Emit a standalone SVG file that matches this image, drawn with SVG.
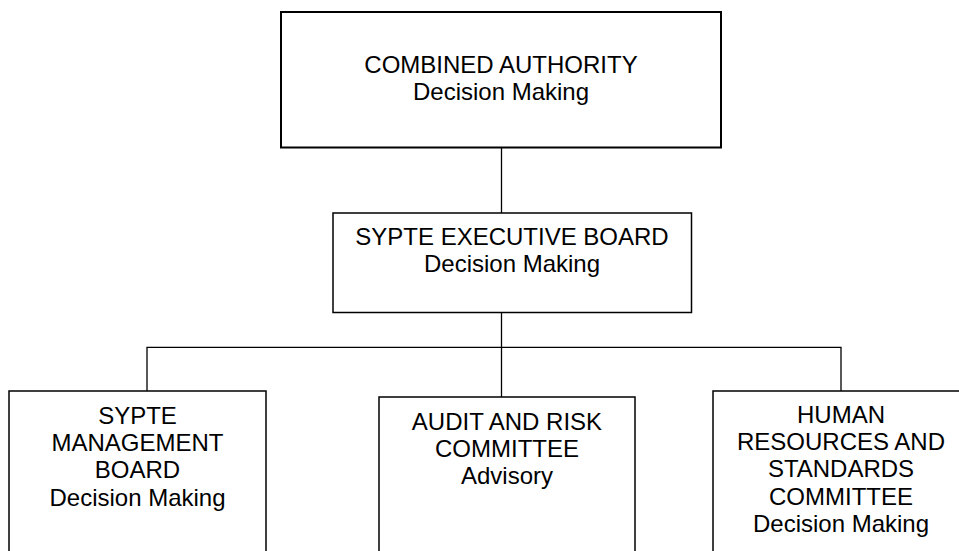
<svg xmlns="http://www.w3.org/2000/svg" width="959" height="551" viewBox="0 0 959 551">
<style>
  .box { fill: #ffffff; stroke: #000000; stroke-width: 1.5; }
  .top { stroke-width: 2; }
  .conn { stroke: #000000; stroke-width: 1.3; fill: none; }
  text { font-family: "Liberation Sans", Arial, sans-serif; font-size: 24px; fill: #000000; text-anchor: middle; }
</style>
<rect width="959" height="551" fill="#ffffff"/>
<g id="connectors">
  <line class="conn" x1="501.5" y1="148" x2="501.5" y2="213"/>
  <line class="conn" x1="501.5" y1="312.5" x2="501.5" y2="397"/>
  <polyline class="conn" points="147,391 147,347.3 841,347.3 841,391"/>
</g>
<g id="combined-authority">
  <rect class="box top" x="281" y="12" width="440" height="135.5"/>
  <text x="501" y="72.7">COMBINED AUTHORITY</text>
  <text x="501" y="100">Decision Making</text>
</g>
<g id="sypte-executive-board">
  <rect class="box" x="333" y="213" width="358.5" height="99.5"/>
  <text x="512" y="245">SYPTE EXECUTIVE BOARD</text>
  <text x="512" y="272.3">Decision Making</text>
</g>
<g id="sypte-management-board">
  <rect class="box" x="9" y="391" width="257" height="180"/>
  <text x="137.5" y="424">SYPTE</text>
  <text x="137.5" y="451">MANAGEMENT</text>
  <text x="137.5" y="478">BOARD</text>
  <text x="137.5" y="505.5">Decision Making</text>
</g>
<g id="audit-and-risk-committee">
  <rect class="box" x="379" y="397" width="256" height="180"/>
  <text x="507" y="430">AUDIT AND RISK</text>
  <text x="507" y="457.3">COMMITTEE</text>
  <text x="507" y="484">Advisory</text>
</g>
<g id="hr-and-standards-committee">
  <rect class="box" x="713" y="391" width="257" height="180"/>
  <text x="841" y="423">HUMAN</text>
  <text x="841" y="450">RESOURCES AND</text>
  <text x="841" y="477.3">STANDARDS</text>
  <text x="841" y="504.7">COMMITTEE</text>
  <text x="841" y="532">Decision Making</text>
</g>
</svg>
